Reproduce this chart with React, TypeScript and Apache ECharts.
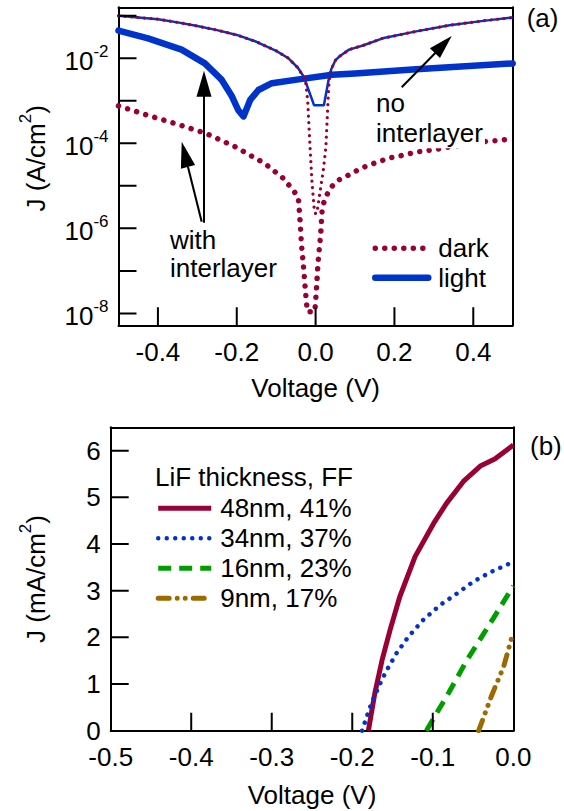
import React, { useEffect, useRef } from 'react';
import * as echarts from 'echarts';

const FONT = '"Liberation Sans", Arial, Helvetica, sans-serif';
const MAROON = '#990033';
const BLUE = '#0033cc';
const GREEN = '#009e00';
const BROWN = '#9c6a00';

// ---------- Panel (a): J (A/cm^2) vs Voltage (V) ----------
const darkWithV = [-0.5, -0.42, -0.35, -0.28, -0.204, -0.13, -0.085, -0.064, -0.044, -0.04, -0.036, -0.03, -0.026, -0.021, -0.002, 0.002, 0.006, 0.013, 0.017, 0.026, 0.038, 0.059, 0.089, 0.11, 0.136, 0.161, 0.185, 0.211, 0.234, 0.259, 0.306, 0.35, 0.4, 0.425, 0.476, 0.5];
const darkWithJ = [7.6e-4, 4.4e-4, 2.8e-4, 1.74e-4, 8.3e-5, 3.4e-5, 1.6e-5, 9.5e-6, 5.5e-6, 1.86e-6, 4.5e-7, 1.05e-7, 3.5e-8, 1.1e-8, 1.1e-8, 3.5e-8, 1.5e-7, 7.6e-7, 3.2e-6, 5.5e-6, 9.1e-6, 1.38e-5, 1.9e-5, 2.45e-5, 3.1e-5, 3.7e-5, 4.5e-5, 5.0e-5, 5.6e-5, 6.3e-5, 7.2e-5, 8.5e-5, 1.0e-4, 1.1e-4, 1.2e-4, 1.32e-4];

const lightWithV = [-0.5, -0.425, -0.34, -0.281, -0.238, -0.212, -0.196, -0.183, -0.166, -0.145, -0.111, -0.043, 0.042, 0.1, 0.255, 0.5];
const lightWithJ = [4.5e-2, 2.95e-2, 1.6e-2, 7.6e-3, 3.1e-3, 1.26e-3, 6.0e-4, 4.3e-4, 1.05e-3, 1.8e-3, 2.6e-3, 3.2e-3, 4.1e-3, 4.4e-3, 5.5e-3, 7.6e-3];

const darkNoV = [-0.5, -0.45, -0.4, -0.35, -0.3, -0.25, -0.2, -0.15, -0.1, -0.07, -0.045, -0.026, -0.02, -0.015, -0.009, -0.004, 0.0, 0.004, 0.012, 0.02, 0.026, 0.03, 0.033, 0.036, 0.04, 0.05, 0.06, 0.085, 0.12, 0.17, 0.255, 0.34, 0.425, 0.5];
const darkNoJ = [1.0e-1, 9.1e-2, 8.3e-2, 7.0e-2, 5.75e-2, 4.6e-2, 3.55e-2, 2.45e-2, 1.5e-2, 1.02e-2, 6.0e-3, 3.1e-3, 1.0e-3, 1.2e-4, 1.15e-5, 3.2e-6, 2.2e-6, 2.5e-6, 7.9e-6, 2.5e-5, 7.9e-5, 5.0e-4, 2.0e-3, 3.8e-3, 5.6e-3, 8.9e-3, 1.1e-2, 1.6e-2, 2.0e-2, 2.95e-2, 4.3e-2, 6.0e-2, 7.6e-2, 9.1e-2];

const lightNoV = [-0.5, -0.45, -0.4, -0.35, -0.3, -0.25, -0.2, -0.15, -0.1, -0.07, -0.045, -0.03, -0.004, 0.021, 0.034, 0.04, 0.05, 0.06, 0.085, 0.12, 0.17, 0.255, 0.34, 0.425, 0.5];
const lightNoJ = [1.0e-1, 9.1e-2, 8.3e-2, 7.0e-2, 5.75e-2, 4.6e-2, 3.55e-2, 2.45e-2, 1.5e-2, 1.02e-2, 6.0e-3, 3.7e-3, 7.9e-4, 7.9e-4, 3.5e-3, 5.6e-3, 8.9e-3, 1.1e-2, 1.6e-2, 2.0e-2, 2.95e-2, 4.3e-2, 6.0e-2, 7.6e-2, 9.1e-2];

const legendA = ['dark', 'light'];
const xTicksA = [-0.4, -0.2, 0, 0.2, 0.4];
const yTicksA = [-8, -7, -6, -5, -4, -3, -2, -1]; // log10 of J (decades)

// ---------- Panel (b): J (mA/cm^2) vs Voltage (V) ----------
const lifNames = ['48nm, 41%', '34nm, 37%', '16nm, 23%', '9nm, 17%'];
const v48 = [-0.18, -0.172, -0.163, -0.153, -0.141, -0.122, -0.099, -0.083, -0.062, -0.041, -0.023, 0.0];
const j48 = [0, 0.8, 1.51, 2.16, 2.87, 3.73, 4.44, 4.87, 5.34, 5.67, 5.82, 6.12];
const v34 = [-0.188, -0.182, -0.177, -0.172, -0.163, -0.157, -0.145, -0.13, -0.112, -0.091, -0.07, -0.05, -0.029, -0.006];
const j34 = [0, 0.3, 0.55, 0.75, 1.1, 1.3, 1.66, 2.02, 2.37, 2.69, 2.94, 3.19, 3.39, 3.57];
const v16 = [-0.108, -0.08, -0.058, -0.025, 0.0];
const j16 = [0, 0.82, 1.5, 2.4, 3.1];
const v9 = [-0.043, -0.027, -0.012, 0.0];
const j9 = [0, 0.75, 1.37, 2.12];
const xTicksB = [-0.4, -0.3, -0.2, -0.1];
const yTicksB = [1, 2, 3, 4, 5, 6];

// axis ranges
const XA = [-0.5, 0.5];
const YA = [-8.28, -0.8];
const XB = [-0.5, 0];
const YB = [0, 6.5];

// layout
const GA = { left: 118.5, top: 7.3, width: 394.2, height: 318 };
const GB = { left: 110.7, top: 427.3, width: 402.6, height: 303.4 };
const TICK_LEN = 18; // px

const logPts = (v: number[], j: number[]) => v.map((x, i) => [x, Math.log10(j[i])]);
const linPts = (v: number[], j: number[]) => v.map((x, i) => [x, j[i]]);

// inward tick segments in data units (tick length converted through the axis span / grid size)
const xTickSegs = (ticks: number[], yr: number[], h: number) => {
  const d = (TICK_LEN / h) * (yr[1] - yr[0]);
  const out: any[] = [];
  ticks.forEach((v) => { out.push([v, yr[0]], [v, yr[0] + d], ['-', '-']); });
  return out;
};
const yTickSegs = (ticks: number[], xr: number[], w: number) => {
  const d = (TICK_LEN / w) * (xr[1] - xr[0]);
  const out: any[] = [];
  ticks.forEach((v) => { out.push([xr[0], v], [xr[0] + d, v], ['-', '-']); });
  return out;
};

const txt = { fontFamily: FONT, color: '#000', fontSize: 26 };
const axLine = () => ({ show: true, onZero: false, lineStyle: { color: '#000', width: 2 } });
const nameRich = () => ({
  b: { fontSize: 26, lineHeight: 32, verticalAlign: 'bottom', fontFamily: FONT, color: '#000' },
  s: { fontSize: 17, lineHeight: 17, verticalAlign: 'top', fontFamily: FONT, color: '#000' },
});
const fmtV = (v: number) => (Math.abs(v) < 1e-9 ? '0.0' : v.toFixed(1));

// plain frame axes (top / right sides of each box)
const frameAxis = (gridIndex: number, position: string, r: number[]) => ({
  gridIndex, type: 'value', position, min: r[0], max: r[1],
  axisLine: axLine(), axisTick: { show: false }, axisLabel: { show: false }, splitLine: { show: false },
});

const tickLine = (xi: number, yi: number, data: any[]) => ({
  type: 'line', xAxisIndex: xi, yAxisIndex: yi, data, symbol: 'none', showSymbol: false,
  connectNulls: false, silent: true, clip: false, z: 9,
  lineStyle: { color: '#000', width: 2, type: 'solid' }, itemStyle: { color: '#000' },
});

const legendCommon = () => ({
  orient: 'vertical', itemWidth: 53, itemHeight: 14, padding: 0, selectedMode: false,
  itemStyle: { opacity: 0, borderWidth: 0 },
  lineStyle: { width: 'inherit', type: 'inherit', cap: 'inherit', color: 'inherit' },
});

function buildOption(): any {
  return {
    animation: false,
    backgroundColor: '#fff',
    grid: [
      { ...GA, show: false },
      { ...GB, show: false },
    ],
    xAxis: [
      {
        gridIndex: 0, type: 'value', min: XA[0], max: XA[1], splitNumber: 5, minInterval: 0.2, maxInterval: 0.2,
        axisLine: axLine(), axisTick: { show: false }, splitLine: { show: false },
        axisLabel: { ...txt, lineHeight: 22, margin: 16, showMinLabel: false, showMaxLabel: false, formatter: fmtV },
        name: 'Voltage (V)', nameLocation: 'middle', nameGap: 50, nameTextStyle: { ...txt },
      },
      {
        gridIndex: 1, type: 'value', min: XB[0], max: XB[1], interval: 0.1,
        axisLine: axLine(), axisTick: { show: false }, splitLine: { show: false },
        axisLabel: { ...txt, lineHeight: 22, margin: 15, formatter: fmtV },
        name: 'Voltage (V)', nameLocation: 'middle', nameGap: 51, nameTextStyle: { ...txt },
      },
      frameAxis(0, 'top', XA),
      frameAxis(1, 'top', XB),
    ],
    yAxis: [
      {
        gridIndex: 0, type: 'value', min: YA[0], max: YA[1], splitNumber: 7, minInterval: 1, maxInterval: 1,
        axisLine: axLine(), axisTick: { show: false }, splitLine: { show: false },
        axisLabel: {
          ...txt, margin: 10,
          formatter: (v: number) => {
            const r = Math.round(v);
            if (Math.abs(v - r) > 1e-6 || r % 2 !== 0) return '';
            return '{b|10}{s|' + r + '}';
          },
          rich: {
            b: { fontSize: 26, lineHeight: 31, verticalAlign: 'bottom', fontFamily: FONT, color: '#000' },
            s: { fontSize: 17, lineHeight: 17, verticalAlign: 'top', fontFamily: FONT, color: '#000' },
          },
        },
        name: '{b|J (A/cm}{s|2}{b|)}', nameLocation: 'middle', nameRotate: 90, nameGap: 70,
        nameTextStyle: { ...txt, padding: [0, 0, 0, 16], rich: nameRich() },
      },
      {
        gridIndex: 1, type: 'value', min: YB[0], max: YB[1], interval: 1,
        axisLine: axLine(), axisTick: { show: false }, splitLine: { show: false },
        axisLabel: {
          ...txt, lineHeight: 22, margin: 10,
          formatter: (v: number) => (Math.abs(v - Math.round(v)) > 1e-6 ? '' : String(Math.round(v))),
        },
        name: '{b|J (mA/cm}{s|2}{b|)}', nameLocation: 'middle', nameRotate: 90, nameGap: 62,
        nameTextStyle: { ...txt, rich: nameRich() },
      },
      frameAxis(0, 'right', YA),
      frameAxis(1, 'right', YB),
    ],
    title: [
      { text: 'LiF thickness, FF', left: 155, top: 463.7, padding: 0, textStyle: { ...txt, fontWeight: 'normal', lineHeight: 26 } },
    ],
    legend: [
      {
        ...legendCommon(), data: legendA, left: 372, top: 235.3, itemGap: 3.4,
        textStyle: { ...txt, lineHeight: 26, padding: [0, 0, 0, 5] },
      },
      {
        ...legendCommon(), data: lifNames, left: 155.7, top: 495.3, itemGap: 4,
        textStyle: { ...txt, lineHeight: 26, padding: [0, 0, 0, 4] },
      },
    ],
    series: [
      {
        name: 'dark', type: 'line', xAxisIndex: 0, yAxisIndex: 0, data: logPts(darkWithV, darkWithJ),
        symbol: 'none', z: 6, itemStyle: { color: MAROON },
        lineStyle: { color: MAROON, width: 5.5, type: [0.01, 9.5], cap: 'round' },
      },
      {
        name: 'light', type: 'line', xAxisIndex: 0, yAxisIndex: 0, data: logPts(lightWithV, lightWithJ),
        symbol: 'none', z: 2, itemStyle: { color: BLUE },
        lineStyle: { color: BLUE, width: 6.5, type: 'solid', cap: 'round', join: 'round' },
      },
      {
        name: 'light', type: 'line', xAxisIndex: 0, yAxisIndex: 0, data: logPts(lightNoV, lightNoJ),
        symbol: 'none', z: 3, itemStyle: { color: BLUE },
        lineStyle: { color: BLUE, width: 2.5, type: 'solid' },
      },
      {
        name: 'dark', type: 'line', xAxisIndex: 0, yAxisIndex: 0, data: logPts(darkNoV, darkNoJ),
        symbol: 'none', z: 4, itemStyle: { color: MAROON },
        lineStyle: { color: MAROON, width: 3.2, type: [0.01, 6.5], cap: 'round' },
      },
      {
        name: lifNames[0], type: 'line', xAxisIndex: 1, yAxisIndex: 1, data: linPts(v48, j48),
        symbol: 'none', itemStyle: { color: MAROON },
        lineStyle: { color: MAROON, width: 5, type: 'solid' },
      },
      {
        name: lifNames[1], type: 'line', xAxisIndex: 1, yAxisIndex: 1, data: linPts(v34, j34),
        symbol: 'none', itemStyle: { color: BLUE },
        lineStyle: { color: BLUE, width: 4.5, type: [0.01, 8.5], cap: 'round' },
      },
      {
        name: lifNames[2], type: 'line', xAxisIndex: 1, yAxisIndex: 1, data: linPts(v16, j16),
        symbol: 'none', itemStyle: { color: GREEN },
        lineStyle: { color: GREEN, width: 5, type: [13, 8] },
      },
      {
        name: lifNames[3], type: 'line', xAxisIndex: 1, yAxisIndex: 1, data: linPts(v9, j9),
        symbol: 'none', itemStyle: { color: BROWN },
        lineStyle: { color: BROWN, width: 5, type: [11, 8, 0.01, 8, 0.01, 8], cap: 'round' },
      },
      tickLine(0, 0, xTickSegs(xTicksA, YA, GA.height)),
      tickLine(0, 0, yTickSegs(yTicksA, XA, GA.width)),
      tickLine(1, 1, xTickSegs(xTicksB, YB, GB.height)),
      tickLine(1, 1, yTickSegs(yTicksB, XB, GB.width)),
    ],
    graphic: [
      { type: 'text', x: 526.7, y: 18.3, z: 50, style: { text: '(a)', fontSize: 26, fontFamily: FONT, fill: '#000', textAlign: 'left', textVerticalAlign: 'middle' } },
      { type: 'text', x: 530, y: 446, z: 50, style: { text: '(b)', fontSize: 26, fontFamily: FONT, fill: '#000', textAlign: 'left', textVerticalAlign: 'middle' } },
      { type: 'text', x: 170, y: 254, z: 50, style: { text: 'with\ninterlayer', fontSize: 26, lineHeight: 28, fontFamily: FONT, fill: '#000', textAlign: 'left', textVerticalAlign: 'middle' } },
      { type: 'text', x: 376, y: 118.3, z: 50, style: { text: 'no\ninterlayer', fontSize: 26, lineHeight: 30, fontFamily: FONT, fill: '#000', textAlign: 'left', textVerticalAlign: 'middle', backgroundColor: '#fff', padding: [0, 2, 0, 0] } },
      { type: 'line', z: 50, shape: { x1: 204, y1: 222.7, x2: 204, y2: 92 }, style: { stroke: '#000', lineWidth: 2 } },
      { type: 'polygon', z: 50, shape: { points: [[204, 70.7], [196.5, 96.7], [211.5, 96.7]] }, style: { fill: '#000' } },
      { type: 'line', z: 50, shape: { x1: 201.7, y1: 221.7, x2: 188, y2: 166.9 }, style: { stroke: '#000', lineWidth: 2 } },
      { type: 'polygon', z: 50, shape: { points: [[181.7, 141.7], [195.1, 165.1], [180.9, 168.7]] }, style: { fill: '#000' } },
      { type: 'line', z: 50, shape: { x1: 401.7, y1: 87.3, x2: 436, y2: 52.2 }, style: { stroke: '#000', lineWidth: 2 } },
      { type: 'polygon', z: 50, shape: { points: [[451.7, 36], [440, 58.1], [429.9, 48.3]] }, style: { fill: '#000' } },
    ],
  };
}

export default function App() {
  const ref = useRef<HTMLDivElement>(null);
  useEffect(() => {
    if (!ref.current) return;
    const chart = echarts.init(ref.current, null, { renderer: 'svg' });
    chart.setOption(buildOption());
    return () => chart.dispose();
  }, []);
  return <div ref={ref} style={{ position: 'absolute', left: 0, top: 0, width: 564, height: 811, background: '#fff' }} />;
}
